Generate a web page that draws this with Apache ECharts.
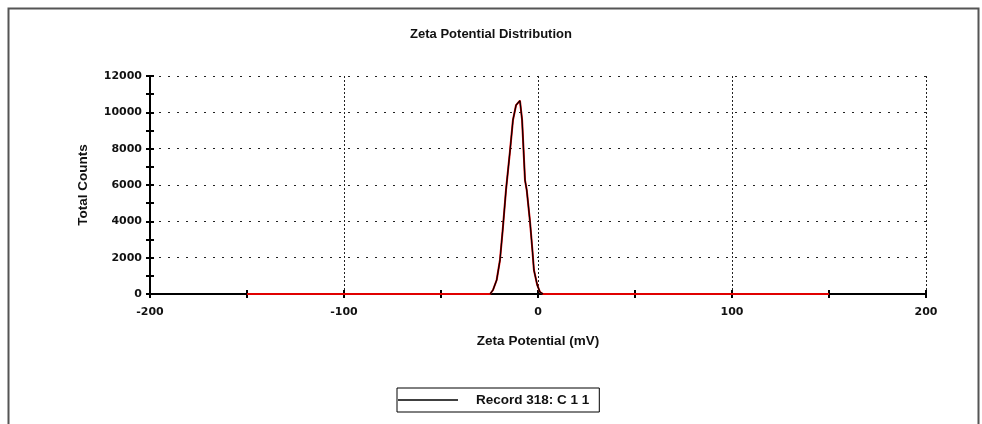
<!DOCTYPE html>
<html>
<head>
<meta charset="utf-8">
<script src="https://cdn.jsdelivr.net/npm/echarts@6/dist/echarts.min.js"></script>
<style>
  html, body { margin: 0; padding: 0; background: #fff; }
  #chart { width: 982px; height: 424px; }
</style>
</head>
<body>
<div id="chart"></div>
<script>
// Zeta potential (mV) and total counts for the measured record
const potentials = [-150, -24.7, -23.2, -21.3, -19.6, -18.2, -16.5, -14.5, -12.9, -11.3, -10.3, -9.3, -8.2, -6.7, -5.8, -4.1, -2.9, -2.1, -0.4, 1.0, 2.6, 150];
const counts     = [0, 0, 220, 770, 1870, 3520, 5720, 7800, 9580, 10400, 10510, 10640, 9580, 6270, 5720, 3960, 2420, 1320, 500, 110, 0, 0];

const xTicks = [-200, -100, 0, 100, 200];
const yTicks = [0, 2000, 4000, 6000, 8000, 10000, 12000];

const recordName = 'Record 318: C 1 1';

const allPoints = potentials.map((p, i) => [p, counts[i]]);
// peak portion (between the two zero-level end points)
const peakPoints = allPoints.slice(1, allPoints.length - 1);

const labelFont = { fontFamily: 'DejaVu Sans', fontWeight: 'bold', fontSize: 11, color: '#111' };
const nameFont = { fontFamily: 'Liberation Sans', fontWeight: 'bold', fontSize: 13.5, color: '#111' };
const plain = v => String(v);

const chart = echarts.init(document.getElementById('chart'));
chart.setOption({
  animation: false,
  backgroundColor: '#fff',
  title: {
    text: 'Zeta Potential Distribution',
    left: 'center',
    top: 23,
    textStyle: { fontFamily: 'Liberation Sans', fontWeight: 'bold', fontSize: 13, color: '#111' }
  },
  graphic: [{
    type: 'rect',
    shape: { x: 8.5, y: 8.5, width: 970, height: 440 },
    style: { fill: 'none', stroke: '#555', lineWidth: 2 },
    silent: true
  }],
  legend: {
    show: true,
    data: [{ name: recordName, icon: 'path://M0,0L60,0L60,1.4L0,1.4Z' }],
    left: 397,
    top: 388,
    orient: 'horizontal',
    borderColor: '#000',
    borderWidth: 1,
    padding: [5, 10, 5, 1],
    itemWidth: 60,
    itemHeight: 1.4,
    itemStyle: { color: '#000' },
    textStyle: Object.assign({}, nameFont, { padding: [0, 0, 0, 13] })
  },
  grid: { left: 150, right: 56, top: 76, bottom: 130, containLabel: false },
  xAxis: [{
    type: 'value',
    min: xTicks[0],
    max: xTicks[xTicks.length - 1],
    interval: 100,
    name: 'Zeta Potential (mV)',
    nameLocation: 'middle',
    nameGap: 40,
    nameTextStyle: nameFont,
    axisLine: { show: true, onZero: false, lineStyle: { color: '#000', width: 2 } },
    axisTick: { show: true, length: 4, lineStyle: { color: '#000', width: 2 } },
    minorTick: { show: true, splitNumber: 2, length: 4, lineStyle: { color: '#000', width: 2 } },
    axisLabel: Object.assign({ margin: 13, formatter: plain }, labelFont),
    splitLine: { show: true, lineStyle: { color: '#222', width: 1, type: [2, 2] } }
  }, {
    type: 'value',
    min: xTicks[0],
    max: xTicks[xTicks.length - 1],
    interval: 100,
    position: 'bottom',
    axisLine: { show: false, onZero: false },
    axisTick: { show: true, inside: true, length: 4, lineStyle: { color: '#000', width: 2 } },
    minorTick: { show: true, splitNumber: 2, length: 4, lineStyle: { color: '#000', width: 2 } },
    axisLabel: { show: false },
    splitLine: { show: false }
  }],
  yAxis: [{
    type: 'value',
    min: yTicks[0],
    max: yTicks[yTicks.length - 1],
    interval: 2000,
    name: 'Total Counts',
    nameLocation: 'middle',
    nameGap: 60,
    nameTextStyle: nameFont,
    axisLine: { show: true, onZero: false, lineStyle: { color: '#000', width: 2 } },
    axisTick: { show: true, length: 4, lineStyle: { color: '#000', width: 2 } },
    minorTick: { show: true, splitNumber: 2, length: 4, lineStyle: { color: '#000', width: 2 } },
    axisLabel: Object.assign({ margin: 8, formatter: plain }, labelFont),
    splitLine: { show: true, lineStyle: { color: '#222', width: 1, type: [2, 7] } }
  }, {
    type: 'value',
    min: yTicks[0],
    max: yTicks[yTicks.length - 1],
    interval: 2000,
    position: 'left',
    axisLine: { show: false, onZero: false },
    axisTick: { show: true, inside: true, length: 4, lineStyle: { color: '#000', width: 2 } },
    minorTick: { show: true, splitNumber: 2, length: 4, lineStyle: { color: '#000', width: 2 } },
    axisLabel: { show: false },
    splitLine: { show: false }
  }],
  series: [{
    name: 'trace',
    type: 'line',
    xAxisIndex: 0,
    yAxisIndex: 0,
    data: allPoints,
    symbol: 'none',
    lineStyle: { color: '#e00000', width: 2 },
    z: 3
  }, {
    name: recordName,
    type: 'line',
    xAxisIndex: 0,
    yAxisIndex: 0,
    data: peakPoints,
    symbol: 'none',
    itemStyle: { color: '#000' },
    lineStyle: { color: '#000', width: 1.2 },
    z: 4
  }]
});
</script>
</body>
</html>
